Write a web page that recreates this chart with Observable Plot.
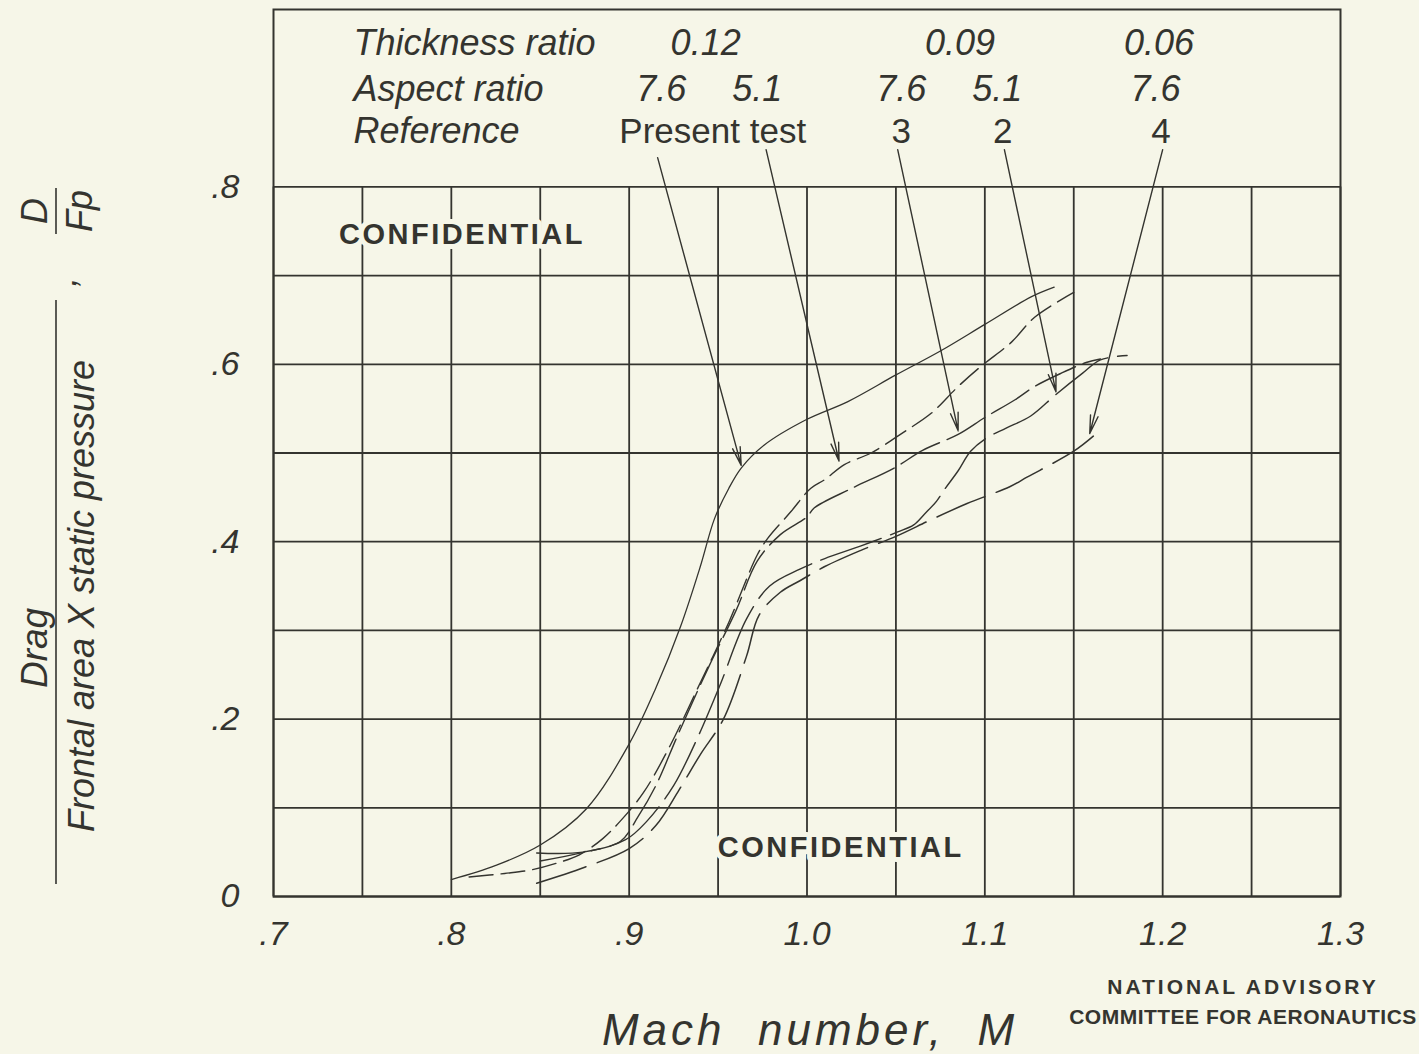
<!DOCTYPE html>
<html>
<head>
<meta charset="utf-8">
<script src="https://cdn.jsdelivr.net/npm/d3@7"></script>
<script src="https://cdn.jsdelivr.net/npm/@observablehq/plot@0.6"></script>
<style>
  html, body { margin: 0; padding: 0; background: #f6f6e8; }
  #chart svg { display: block; }
</style>
</head>
<body>
<div id="chart"></div>
<script>
// ---------- data ----------
const xTicks = [0.7, 0.8, 0.9, 1.0, 1.1, 1.2, 1.3];
const xTickLabels = [".7", ".8", ".9", "1.0", "1.1", "1.2", "1.3"];
const yTicks = [0, 0.2, 0.4, 0.6, 0.8];
const yTickLabels = ["0", ".2", ".4", ".6", ".8"];
const xGrid = [0.7, 0.75, 0.8, 0.85, 0.9, 0.95, 1.0, 1.05, 1.1, 1.15, 1.2, 1.25, 1.3];
const yGrid = [0, 0.1, 0.2, 0.3, 0.4, 0.5, 0.6, 0.7, 0.8];

// thickness 0.12, aspect 7.6 (present test)
const t012_ar76 = [[0.80,0.019],[0.825,0.035],[0.85,0.058],[0.876,0.099],[0.90,0.172],[0.915,0.235],[0.929,0.305],[0.94,0.372],[0.948,0.426],[0.956,0.46],[0.963,0.483],[0.976,0.509],[1.0,0.538],[1.023,0.558],[1.05,0.588],[1.075,0.615],[1.10,0.645],[1.126,0.676],[1.139,0.687]];
// thickness 0.12, aspect 5.1 (present test)
const t012_ar51 = [[0.81,0.022],[0.83,0.026],[0.845,0.03],[0.86,0.038],[0.872,0.047],[0.885,0.065],[0.895,0.085],[0.908,0.117],[0.923,0.17],[0.94,0.241],[0.956,0.309],[0.972,0.385],[0.978,0.404],[0.991,0.434],[1.002,0.46],[1.01,0.47],[1.021,0.487],[1.036,0.50],[1.054,0.523],[1.07,0.545],[1.085,0.575],[1.098,0.598],[1.115,0.625],[1.128,0.653],[1.15,0.681]];
// thickness 0.09, aspect 7.6 (reference 3)
const t009_ar76 = [[0.85,0.04],[0.875,0.05],[0.895,0.062],[0.905,0.09],[0.915,0.125],[0.928,0.185],[0.945,0.26],[0.96,0.322],[0.972,0.378],[0.985,0.408],[1.0,0.428],[1.004,0.438],[1.025,0.46],[1.049,0.483],[1.065,0.503],[1.085,0.521],[1.1,0.54],[1.117,0.56],[1.128,0.575],[1.143,0.59],[1.157,0.602],[1.165,0.606]];
// thickness 0.09, aspect 5.1 (reference 2)
const t009_ar51 = [[0.848,0.049],[0.874,0.05],[0.898,0.064],[0.91,0.085],[0.925,0.125],[0.938,0.177],[0.951,0.238],[0.966,0.313],[0.979,0.35],[0.996,0.369],[1.01,0.381],[1.03,0.395],[1.051,0.411],[1.06,0.419],[1.066,0.431],[1.073,0.446],[1.077,0.458],[1.085,0.48],[1.092,0.502],[1.101,0.517],[1.112,0.528],[1.126,0.542],[1.14,0.566],[1.155,0.59],[1.165,0.605],[1.18,0.61]];
// thickness 0.06, aspect 7.6 (reference 4)
const t006_ar76 = [[0.848,0.015],[0.875,0.033],[0.9,0.054],[0.915,0.08],[0.928,0.12],[0.94,0.16],[0.953,0.2],[0.966,0.271],[0.973,0.317],[0.985,0.343],[0.996,0.356],[1.01,0.372],[1.03,0.39],[1.05,0.406],[1.07,0.425],[1.09,0.443],[1.114,0.462],[1.124,0.473],[1.15,0.502],[1.161,0.519]];

// legend table text
const legendRowLabels = ["Thickness ratio", "Aspect ratio", "Reference"];
const thicknessLabels = ["0.12", "0.09", "0.06"];
const aspectLabels = ["7.6", "5.1", "7.6", "5.1", "7.6"];
const referenceLabels = ["Present test", "3", "2", "4"];

// leader arrows: from legend label to curve (data coordinates)
const arrowFrom = [[0.916,0.833],[0.977,0.842],[1.051,0.842],[1.111,0.842],[1.200,0.842]];
const arrowTo   = [[0.963,0.486],[1.018,0.491],[1.085,0.525],[1.140,0.569],[1.159,0.522]];

// ---------- layout / style ----------
const INK = "#34342f";
const BG = "#f6f6e8";
const HAND = "'Liberation Sans', Arial, sans-serif";

const legendRowY = [0.962, 0.910, 0.862];
const thicknessX = [0.943, 1.086, 1.198];
const aspectX = [0.918, 0.972, 1.053, 1.107, 1.196];
const referenceX = [0.947, 1.053, 1.11, 1.199];

const series = [
  {data: t012_ar76, dash: null, w: 1.3},
  {data: t012_ar51, dash: "24,8", w: 1.4},
  {data: t009_ar76, dash: "44,8", w: 1.4},
  {data: t009_ar51, dash: "64,10", w: 1.4},
  {data: t006_ar76, dash: "52,12", w: 1.5}
];

const arrows = arrowFrom.map((f, i) => ({x1: f[0], y1: f[1], x2: arrowTo[i][0], y2: arrowTo[i][1]}));

const textCommon = {fill: INK, fontFamily: HAND, fontStyle: "italic", fontSize: 36};

const marks = [
  Plot.ruleX(xGrid, {y1: 0, y2: 0.8, stroke: INK, strokeWidth: 1.8}),
  Plot.ruleY(yGrid, {stroke: INK, strokeWidth: 1.8}),
  Plot.frame({stroke: INK, strokeWidth: 2}),
  // confidential stamps (halo breaks the grid behind the letters)
  Plot.text(["CONFIDENTIAL"], {x: 0.806, y: 0.746, fill: INK, stroke: BG, strokeWidth: 10, fontFamily: HAND, fontWeight: "bold", fontSize: 29}),
  Plot.text(["CONFIDENTIAL"], {x: 1.019, y: 0.055, fill: INK, stroke: BG, strokeWidth: 10, fontFamily: HAND, fontWeight: "bold", fontSize: 29}),
  ...series.map(s => Plot.line(s.data, {x: d => d[0], y: d => d[1], stroke: INK, strokeWidth: s.w, strokeDasharray: s.dash, curve: "catmull-rom"})),
  Plot.arrow(arrows, {x1: "x1", y1: "y1", x2: "x2", y2: "y2", stroke: INK, strokeWidth: 1.4, headLength: 20, headAngle: 24, bend: false}),
  // legend table
  Plot.text(legendRowLabels, {x: 0.745, y: (d, i) => legendRowY[i], textAnchor: "start", ...textCommon}),
  Plot.text(thicknessLabels, {x: (d, i) => thicknessX[i], y: legendRowY[0], ...textCommon}),
  Plot.text(aspectLabels, {x: (d, i) => aspectX[i], y: legendRowY[1], ...textCommon}),
  Plot.text(referenceLabels, {x: (d, i) => referenceX[i], y: legendRowY[2], ...textCommon, fontStyle: "normal", fontSize: 35}),
  // axes
  Plot.axisX(xTicks, {tickSize: 0, tickPadding: 24, tickFormat: (d, i) => xTickLabels[i], fontSize: 34, fontStyle: "italic", fontFamily: HAND, fill: INK}),
  Plot.axisY(yTicks, {tickSize: 0, tickPadding: 34, tickFormat: (d, i) => yTickLabels[i], fontSize: 34, fontStyle: "italic", fontFamily: HAND, fill: INK})
];

const svg = Plot.plot({
  width: 1419,
  height: 1054,
  marginLeft: 273,
  marginRight: 79,
  marginTop: 9,
  marginBottom: 158,
  x: {domain: [0.7, 1.3]},
  y: {domain: [0, 1.0]},
  style: {background: BG, color: INK, fontFamily: HAND},
  marks
});

const s = d3.select(svg);
// spaced stamp lettering
s.selectAll("text").filter(function() { return this.textContent === "CONFIDENTIAL"; })
  .attr("letter-spacing", 2.5);

// ---------- titles in the margins ----------
const g = s.append("g").attr("fill", INK).attr("font-family", HAND);
// x title
g.append("text").attr("x", 810).attr("y", 1045).attr("text-anchor", "middle")
  .attr("font-size", 44).attr("font-style", "italic").attr("letter-spacing", 4)
  .attr("xml:space", "preserve").text("Mach  number,  M");
// agency
g.append("text").attr("x", 1243).attr("y", 994).attr("text-anchor", "middle")
  .attr("font-size", 21).attr("font-weight", "bold").attr("letter-spacing", 3)
  .text("NATIONAL ADVISORY");
g.append("text").attr("x", 1243).attr("y", 1024).attr("text-anchor", "middle")
  .attr("font-size", 21).attr("font-weight", "bold").attr("letter-spacing", 0.5)
  .text("COMMITTEE FOR AERONAUTICS");
// y title as rotated fraction
const yt = g.append("g").attr("font-style", "italic");
yt.append("text").attr("transform", "translate(47,648) rotate(-90)").attr("text-anchor", "middle")
  .attr("font-size", 37).text("Drag");
yt.append("line").attr("x1", 56).attr("x2", 56).attr("y1", 884).attr("y2", 300)
  .attr("stroke", INK).attr("stroke-width", 1.6);
yt.append("text").attr("transform", "translate(94,596) rotate(-90)").attr("text-anchor", "middle")
  .attr("font-size", 36).text("Frontal area X static pressure");
yt.append("text").attr("transform", "translate(76,282) rotate(-90)").attr("text-anchor", "middle")
  .attr("font-size", 36).text(",");
yt.append("text").attr("transform", "translate(47,211) rotate(-90)").attr("text-anchor", "middle")
  .attr("font-size", 36).text("D");
yt.append("line").attr("x1", 56).attr("x2", 56).attr("y1", 234).attr("y2", 188)
  .attr("stroke", INK).attr("stroke-width", 1.6);
yt.append("text").attr("transform", "translate(92,211) rotate(-90)").attr("text-anchor", "middle")
  .attr("font-size", 36).text("Fp");

document.getElementById("chart").appendChild(svg);
</script>
</body>
</html>
